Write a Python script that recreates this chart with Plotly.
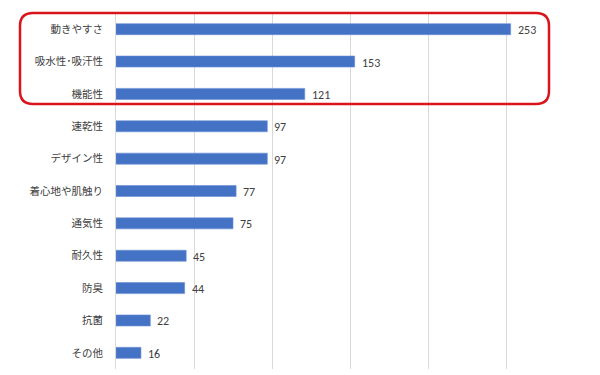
import plotly.graph_objects as go

categories = ["動きやすさ", "吸水性･吸汗性", "機能性", "速乾性", "デザイン性",
              "着心地や肌触り", "通気性", "耐久性", "防臭", "抗菌", "その他"]
values = [253, 153, 121, 97, 97, 77, 75, 45, 44, 22, 16]
tick_vals = [0, 50, 100, 150, 200, 250, 300]

W, H = 600, 375
ML, MR, MT, MB = 116, 16, 13, 6
pw, ph = W - ML - MR, H - MT - MB

fig = go.Figure()
fig.add_trace(go.Bar(
    y=categories, x=values, orientation="h",
    marker=dict(color="#4472C4", line=dict(color="#6a8fd6", width=0.6)),
    width=0.34,
    hoverinfo="x+y",
))

for c, v in zip(categories, values):
    fig.add_annotation(x=v, y=c, xref="x", yref="y", text=str(v), showarrow=False,
                       xanchor="left", xshift=5, yshift=-1,
                       font=dict(family="Carlito, Liberation Sans, sans-serif", size=12, color="#404040"))

def px_x(p):
    return (p - ML) / pw

def px_y(p):
    return (H - MB - p) / ph

x0, x1 = px_x(20), px_x(549)
y0, y1 = px_y(104), px_y(13)
rx, ry = 13 / pw, 13 / ph
path = (f"M {x0+rx},{y1} L {x1-rx},{y1} Q {x1},{y1} {x1},{y1-ry} "
        f"L {x1},{y0+ry} Q {x1},{y0} {x1-rx},{y0} "
        f"L {x0+rx},{y0} Q {x0},{y0} {x0},{y0+ry} "
        f"L {x0},{y1-ry} Q {x0},{y1} {x0+rx},{y1} Z")
fig.add_shape(type="path", path=path, xref="paper", yref="paper",
              line=dict(color="#d9141b", width=2.5), fillcolor="rgba(0,0,0,0)")

fig.update_layout(
    width=W, height=H,
    margin=dict(l=ML, r=MR, t=MT, b=MB),
    paper_bgcolor="white", plot_bgcolor="white",
    showlegend=False,
    font=dict(family="Noto Sans CJK JP", size=10.5, color="#404040"),
    xaxis=dict(range=[0, 300], tickvals=tick_vals, showticklabels=False,
               showgrid=True, gridcolor="#d9d9d9", gridwidth=1,
               zeroline=False, showline=False, fixedrange=True),
    yaxis=dict(categoryorder="array", categoryarray=categories[::-1],
               showgrid=False, zeroline=False, showline=True, linecolor="#d9d9d9",
               ticks="outside", ticklen=10, tickcolor="rgba(0,0,0,0)",
               tickfont=dict(family="Noto Sans CJK JP", size=10.5, color="#404040"),
               fixedrange=True),
)

fig.write_html("out.html")
